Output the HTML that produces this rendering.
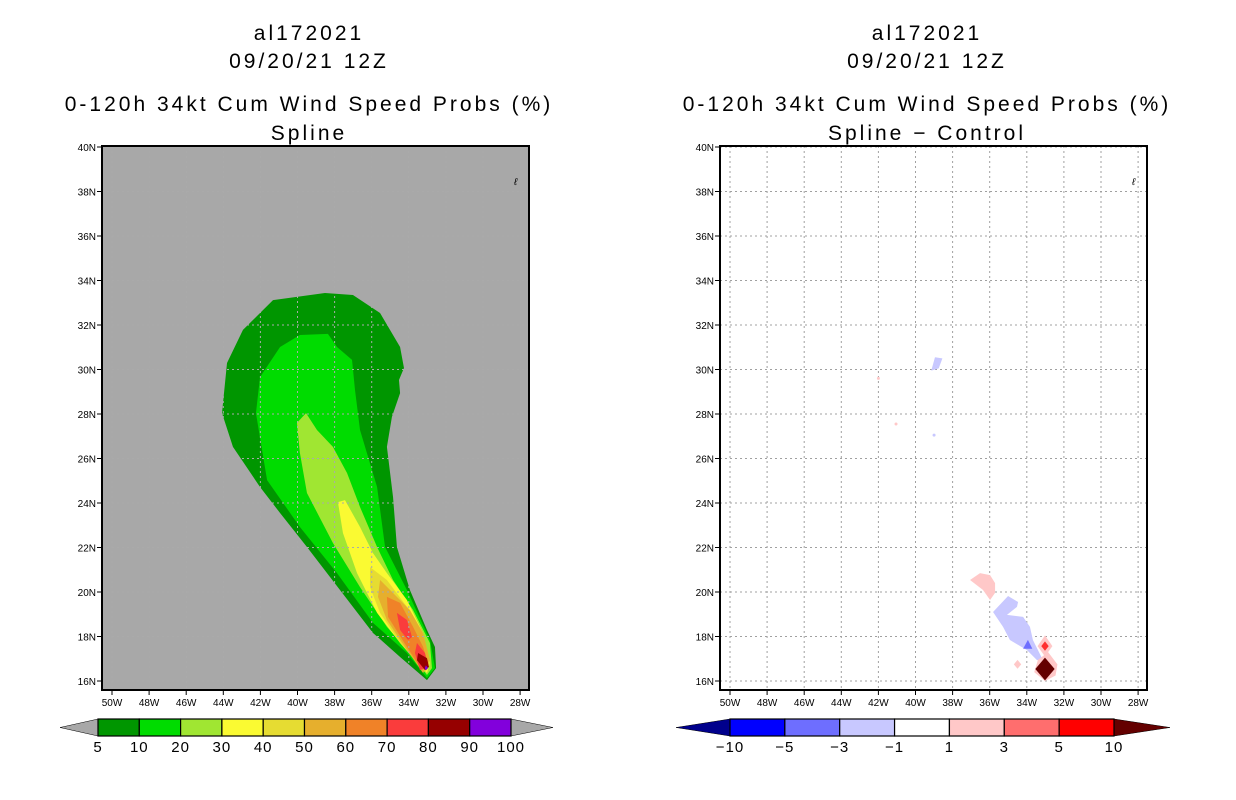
<!DOCTYPE html>
<html><head><meta charset="utf-8"><style>
html,body{margin:0;padding:0;background:#fff;}
svg{display:block;font-family:"Liberation Sans",sans-serif;}
</style></head><body>
<svg id="fig" width="1236" height="800" viewBox="0 0 1236 800"></svg>
<script>
// ---- data ----
const latTicks=[16,18,20,22,24,26,28,30,32,34,36,38,40];
const lonTicks=[50,48,46,44,42,40,38,36,34,32,30,28];
const leftLevels=[5,10,20,30,40,50,60,70,80,90,100];
const leftColors=['#009600','#00dc00','#a0e632','#fafa32','#e6dc32','#e6af2d','#f08228','#fa3c3c','#960000','#8200dc'];
const rightLevels=[-10,-5,-3,-1,1,3,5,10];
const rightColors=['#00008c','#0000ff','#6e6eff','#c8c8ff','#ffffff','#ffc8c8','#ff6e6e','#ff0000','#640000'];
// filled contour polygons: [lonW, latN]
const p05=[[38.52,33.44],[37.01,33.35],[35.55,32.54],[34.47,31.01],[34.26,30.07],[34.53,29.53],[34.47,28.94],[34.91,27.87],[35.18,26.52],[34.85,24.27],[34.64,22.02],[33.94,20.09],[33.02,18.29],[32.59,17.53],[32.53,16.58],[33.02,16.04],[34.47,17.08],[35.93,18.16],[37.71,20.09],[39.49,22.02],[40.94,23.55],[42.02,24.72],[43.48,26.52],[44.07,28.04],[43.80,30.29],[42.94,31.78],[41.32,33.12]];
const p10=[[39.87,31.55],[38.36,31.60],[37.87,31.01],[37.06,30.43],[36.90,29.08],[36.63,27.28],[35.71,24.72],[35.28,22.02],[34.10,20.09],[32.86,17.84],[32.59,16.58],[33.02,16.13],[34.10,17.26],[35.93,18.61],[37.87,20.85],[39.87,22.92],[41.64,25.03],[42.24,28.04],[42.02,29.66],[40.94,31.01]];
const p20=[[39.54,28.04],[38.95,27.28],[38.09,26.52],[37.33,25.35],[36.63,23.82],[35.71,22.02],[34.85,20.54],[33.77,19.19],[32.86,17.71],[32.75,16.58],[33.02,16.27],[33.77,17.08],[35.18,18.43],[36.63,20.22],[38.09,22.20],[39.49,24.45],[39.87,26.25],[40.03,27.60]];
const p30=[[37.82,24.04],[37.44,24.13],[36.63,22.92],[35.93,21.75],[35.18,20.85],[34.10,19.64],[33.23,18.16],[32.86,16.81],[33.02,16.36],[34.47,17.71],[35.71,19.06],[36.79,20.85],[37.55,22.65]];
const p40=[[36.09,21.12],[35.18,20.54],[34.10,19.33],[33.23,17.98],[32.86,16.81],[33.13,16.40],[34.47,17.71],[35.55,19.06],[36.09,20.22]];
const p50=[[35.55,20.54],[35.01,20.09],[33.94,19.19],[33.23,18.16],[32.86,16.94],[33.23,16.36],[34.10,17.39],[35.18,18.74],[35.66,19.78]];
const p60=[[35.18,19.78],[34.47,19.51],[33.77,18.43],[33.23,17.53],[32.96,16.81],[33.29,16.49],[34.10,17.53],[35.12,18.88]];
const p70a=[[34.64,19.06],[34.10,18.74],[33.83,17.98],[34.04,17.84],[34.47,18.29]];
const p70b=[[33.56,17.71],[33.13,17.26],[32.96,16.63],[33.40,16.49],[33.67,17.26]];
const p80=[[33.50,17.26],[33.02,17.03],[32.91,16.63],[33.13,16.49],[33.56,16.94]];
const p90=[[33.08,16.70],[32.96,16.58],[33.08,16.48],[33.14,16.58]];
// difference panel polygons
const dPink1=[[37.06,20.54],[36.52,20.85],[35.98,20.76],[35.71,20.40],[35.71,19.96],[35.98,19.64],[36.36,20.09]];
const dBlue1=[[35.82,19.10],[35.01,19.82],[34.47,19.55],[34.53,19.33],[35.07,18.97],[34.20,18.88],[33.83,18.43],[33.67,17.84],[33.13,16.94],[33.45,16.94],[33.99,17.39],[34.91,17.84],[35.28,18.43]];
const dBlue2=[[33.94,17.85],[33.70,17.45],[34.20,17.45]];
const dPink2=[[33.02,18.05],[32.62,17.57],[33.02,17.10],[33.42,17.57]];
const dRed2=[[33.02,17.78],[32.82,17.57],[33.02,17.36],[33.22,17.57]];
const dPink3=[[32.85,17.30],[32.35,16.75],[32.45,16.25],[33.02,16.00],[33.60,16.40],[33.40,16.95]];
const dDark3=[[33.02,17.05],[32.50,16.54],[33.02,16.03],[33.54,16.54]];
const dPink4=[[34.50,16.95],[34.30,16.75],[34.50,16.55],[34.70,16.75]];
const dBlue3=[[38.95,30.55],[38.55,30.50],[38.75,30.05],[39.15,29.95]];
const dSpots=[[42.0,29.6,'#ffc8c8'],[41.05,27.55,'#ffc8c8'],[39.0,27.05,'#c8c8ff']];

const NS='http://www.w3.org/2000/svg';
const svg=document.getElementById('fig');
function mk(tag,attrs,parent){const e=document.createElementNS(NS,tag);for(const k in attrs)e.setAttribute(k,attrs[k]);(parent||svg).appendChild(e);return e;}
function xs(lon,off){return 112+off+(50-lon)*18.55;}
function ys(lat){return 681-(lat-16)*22.25;}
function poly(pts,fill,off,name,g){const e=mk('polygon',{points:pts.map(p=>xs(p[0],off)+','+ys(p[1])).join(' '),fill:fill},g);

return e;}

function panel(off,bg,titleLast,pname){
  const g=mk('g',{});
  
  
  const cx=309+off;
  const lines=[['al172021',40,'title-storm-id'],['09/20/21 12Z',68,'title-date'],['0-120h 34kt Cum Wind Speed Probs (%)',111,'title-main'],[titleLast,140,'title-sub']];
  lines.forEach(l=>{const t=mk('text',{x:cx,y:l[1],'text-anchor':'middle','font-size':'21',fill:'#000','letter-spacing':'3'},g);t.textContent=l[0];
    
    });
  const r=mk('rect',{x:102+off,y:146,width:427,height:544,fill:bg},g);
  
  
  return g;
}
function gridAndAxes(off,g,gridColor){
  lonTicks.forEach(l=>{const x=xs(l,off);
    const gl=mk('line',{x1:x,y1:146,x2:x,y2:690,stroke:gridColor,'stroke-width':1,'stroke-dasharray':'2,3'},g);
    
    
    mk('line',{x1:x,y1:690,x2:x,y2:695,stroke:'#000'},g);
    const t=mk('text',{x:x,y:706,'text-anchor':'middle','font-size':'10',fill:'#000'},g);t.textContent=l+'W';
    
    });
  latTicks.forEach(l=>{const y=ys(l);
    const gl=mk('line',{x1:102+off,y1:y,x2:529+off,y2:y,stroke:gridColor,'stroke-width':1,'stroke-dasharray':'2,3'},g);
    
    
    mk('line',{x1:97+off,y1:y,x2:102+off,y2:y,stroke:'#000'},g);
    const t=mk('text',{x:96+off,y:y+4,'text-anchor':'end','font-size':'10',fill:'#000'},g);t.textContent=l+'N';
    
    });
  const f=mk('rect',{x:102+off,y:146,width:427,height:544,fill:'none',stroke:'#000','stroke-width':2},g);
  
  
  const m=mk('text',{x:514+off,y:185,'font-size':'10','font-style':'italic',fill:'#000'},g);m.textContent='ℓ';
  
  
}
function colorbar(x0,x1,tl,tr,levels,colors,ends,name){
  const g=mk('g',{});
  
  
  const n=colors.length-2, w=(x1-x0)/n, y0=719,h=17;
  const a=mk('polygon',{points:`${tl},${y0+h/2} ${x0},${y0} ${x0},${y0+h}`,fill:colors[0],stroke:'#000','stroke-width':0.5},g);
  
  
  const b=mk('polygon',{points:`${tr},${y0+h/2} ${x1},${y0} ${x1},${y0+h}`,fill:colors[colors.length-1],stroke:'#000','stroke-width':0.5},g);
  
  
  for(let i=0;i<n;i++){const r=mk('rect',{x:x0+i*w,y:y0,width:w,height:h,fill:colors[i+1],stroke:'#000','stroke-width':1.2},g);
    
    }
  levels.forEach((lv,i)=>{const t=mk('text',{x:x0+i*w,y:752,'text-anchor':'middle','font-size':'15',fill:'#000','letter-spacing':'1'},g);t.textContent=lv<0?'\u2212'+(-lv):String(lv);
    
    });
}

// left panel
const gL=panel(0,'#a8a8a8','Spline','left-panel');
const cl=mk('clipPath',{id:'cL'});mk('rect',{x:102,y:146,width:427,height:544},cl);
const gLd=mk('g',{'clip-path':'url(#cL)'},gL);
[[p05,0],[p10,1],[p20,2],[p30,3],[p40,4],[p50,5],[p60,6],[p70a,7],[p70b,7],[p80,8],[p90,9]].forEach(q=>poly(q[0],leftColors[q[1]],0,'contour-'+leftLevels[q[1]]+'pct',gLd));
gridAndAxes(0,gL,'#aaaaaa');
colorbar(98,511,60,553,leftLevels.slice(0),['#a8a8a8'].concat(leftColors).concat(['#a8a8a8']),true,'left-colorbar');

// right panel
const R=618;
const gR=panel(R,'#ffffff','Spline \u2212 Control','right-panel');
gridAndAxes(R,gR,'#a0a0a0');
const gRd=mk('g',{},gR);
poly(dPink1,'#ffc8c8',R,'diff-pos-1',gRd);
poly(dBlue1,'#c8c8ff',R,'diff-neg-1',gRd);
poly(dBlue2,'#6e6eff',R,'diff-neg-3',gRd);
poly(dPink4,'#ffc8c8',R,'diff-pos-1b',gRd);
poly(dPink2,'#ffc8c8',R,'diff-pos-1c',gRd);
poly(dRed2,'#ff3030',R,'diff-pos-5',gRd);
poly(dPink3,'#ffc8c8',R,'diff-pos-1d',gRd);
poly(dDark3,'#640000',R,'diff-pos-10',gRd);
poly(dBlue3,'#c8c8ff',R,'diff-neg-1b',gRd);
dSpots.forEach(s=>{const c=mk('circle',{cx:xs(s[0],R),cy:ys(s[1]),r:1.5,fill:s[2]},gRd);
  
  });
colorbar(730,1114,676,1170,rightLevels,rightColors,true,'right-colorbar');
</script>
</body></html>
